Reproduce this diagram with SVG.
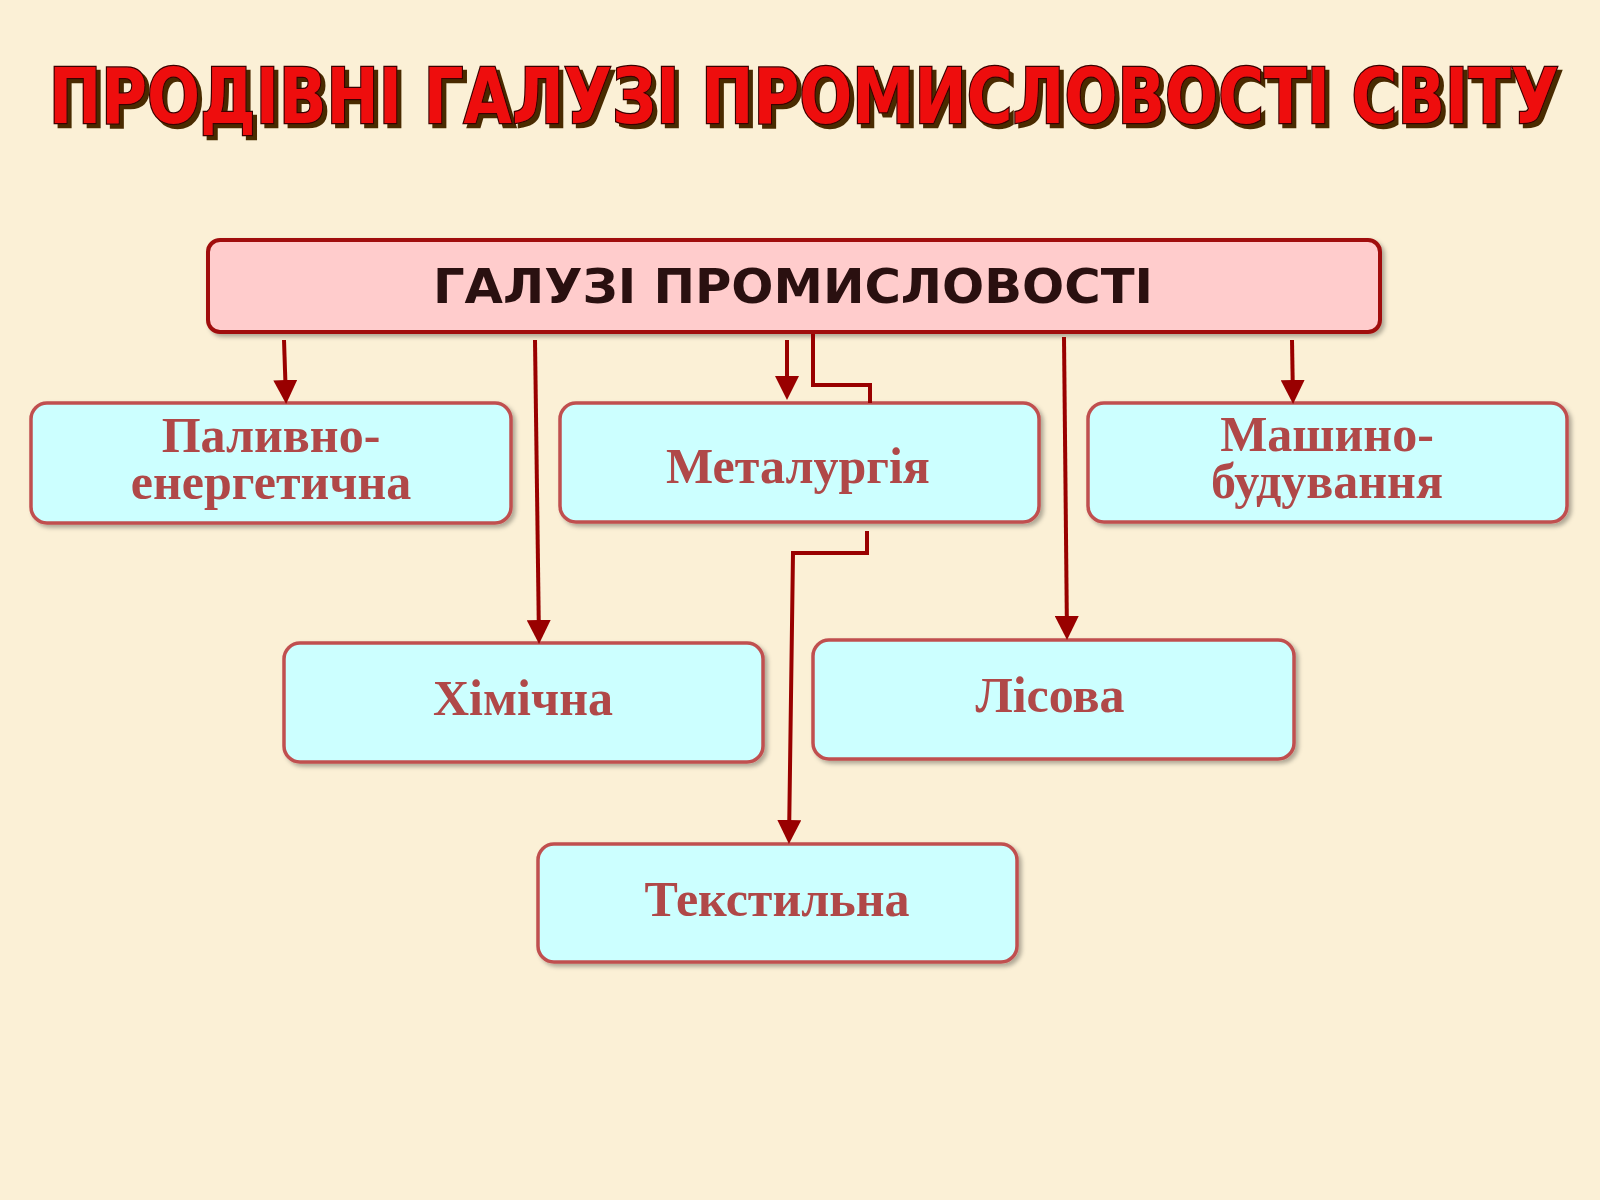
<svg xmlns="http://www.w3.org/2000/svg" width="1600" height="1200" viewBox="0 0 1600 1200">
<defs>
<marker id="ah" markerWidth="6" markerHeight="6" refX="5" refY="3" orient="auto" markerUnits="strokeWidth"><path d="M0,0 L6,3 L0,6 z" fill="#990000"/></marker>
<filter id="sh"><feDropShadow dx="3" dy="3" stdDeviation="2" flood-color="#000" flood-opacity="0.3"/></filter>
<filter id="tsh"><feDropShadow dx="4" dy="4" stdDeviation="0" flood-color="#4a2a00" flood-opacity="1"/></filter>
</defs>
<style>
.box{fill:#ccffff;stroke:#c05050;stroke-width:3.5;filter:url(#sh)}
.lbl{font-family:"Liberation Serif",serif;font-weight:bold;font-size:50px;fill:#b04848;text-anchor:middle}
.con{fill:none;stroke:#990000;stroke-width:4}
</style>
<rect width="1600" height="1200" fill="#fbf0d6"/>
<g id="title">
<text x="804" y="123" text-anchor="middle" font-family="DejaVu Sans Condensed,sans-serif" font-weight="bold" font-size="76" textLength="1510" lengthAdjust="spacingAndGlyphs" fill="#ee1111" stroke="#3a0000" stroke-width="2.5" paint-order="stroke" filter="url(#tsh)">ПРОДІВНІ ГАЛУЗІ ПРОМИСЛОВОСТІ СВІТУ</text>
</g>
<g id="root">
<rect x="208" y="240" width="1172" height="92" rx="12" fill="#ffcccc" stroke="#a01010" stroke-width="4" filter="url(#sh)"/>
<text x="793" y="303" text-anchor="middle" font-family="DejaVu Sans,sans-serif" font-weight="bold" font-size="48" fill="#2a1010" textLength="720" lengthAdjust="spacingAndGlyphs">ГАЛУЗІ ПРОМИСЛОВОСТІ</text>
</g>
<g id="n1"><rect class="box" x="31" y="403" width="480" height="120" rx="16"/><text class="lbl" x="271" y="452">Паливно-</text><text class="lbl" x="271" y="499">енергетична</text></g>
<g id="n2"><rect class="box" x="560" y="403" width="479" height="119" rx="16"/><text class="lbl" x="798" y="483">Металургія</text></g>
<g id="n3"><rect class="box" x="1088" y="403" width="479" height="119" rx="16"/><text class="lbl" x="1327" y="451">Машино-</text><text class="lbl" x="1327" y="498">будування</text></g>
<g id="n4"><rect class="box" x="284" y="643" width="479" height="119" rx="16"/><text class="lbl" x="523" y="715">Хімічна</text></g>
<g id="n5"><rect class="box" x="813" y="640" width="481" height="119" rx="16"/><text class="lbl" x="1050" y="712">Лісова</text></g>
<g id="n6"><rect class="box" x="538" y="844" width="479" height="118" rx="16"/><text class="lbl" x="777" y="916">Текстильна</text></g>
<g id="connectors">
<path class="con" marker-end="url(#ah)" d="M284,340 L286,400"/>
<path class="con" marker-end="url(#ah)" d="M535,340 L539,640"/>
<path class="con" marker-end="url(#ah)" d="M787,340 L787,396"/>
<path class="con" d="M813,334 L813,385 L870,385 L870,403"/>
<path class="con" marker-end="url(#ah)" d="M867,531 L867,553 L793,553 L789,840"/>
<path class="con" marker-end="url(#ah)" d="M1064,337 L1067,636"/>
<path class="con" marker-end="url(#ah)" d="M1292,340 L1293,400"/>
</g>
</svg>
